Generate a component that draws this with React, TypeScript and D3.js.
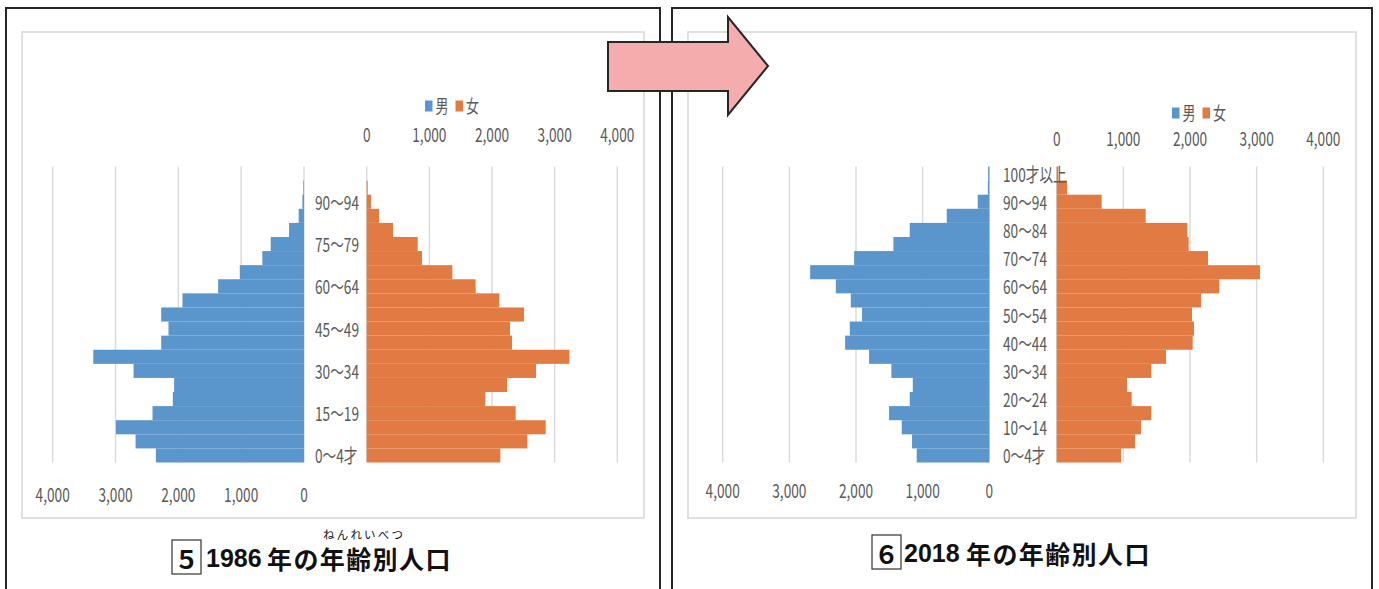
import React, { useEffect, useRef } from 'react';
import * as d3 from 'd3';

// age groups, bottom to top
const ageGroups = [
  "0～4才", "5～9", "10～14", "15～19", "20～24", "25～29", "30～34",
  "35～39", "40～44", "45～49", "50～54", "55～59", "60～64", "65～69",
  "70～74", "75～79", "80～84", "85～89", "90～94", "95～99", "100才以上"
];

const male1986 = [2358, 2681, 2994, 2411, 2088, 2067, 2713, 3354, 2273, 2157, 2273, 1934, 1367, 1022, 663, 530, 238, 85, 25, 10, 0];
const female1986 = [2133, 2564, 2857, 2378, 1894, 2240, 2703, 3235, 2319, 2287, 2511, 2117, 1739, 1367, 883, 814, 420, 196, 69, 15, 0];
const male2018 = [1089, 1159, 1314, 1504, 1194, 1148, 1469, 1804, 2163, 2093, 1909, 2078, 2303, 2688, 2028, 1439, 1194, 639, 174, 22, 18];
const female2018 = [965, 1175, 1265, 1420, 1125, 1055, 1420, 1640, 2040, 2060, 2030, 2165, 2440, 3050, 2270, 1980, 1960, 1335, 675, 155, 25];

const tickValues = [0, 1000, 2000, 3000, 4000];
const legendLabels = ["男", "女"];

const blue = "#5A95CB";
const orange = "#E27B43";
const gridColor = "#d9d9d9";
const textColor = "#595959";
const labelFont = "'Liberation Sans Narrow', 'Noto Sans CJK JP', sans-serif";
const titleFont = "'Noto Sans CJK JP', sans-serif";
const squeeze = 0.72;

const addLabel = (g, x, y, txt, anchor, size = 19, fill = textColor) => {
    g.append("text")
        .attr("transform", `translate(${x},${y}) scale(${squeeze},1)`)
        .attr("text-anchor", anchor)
        .attr("dominant-baseline", "central")
        .attr("font-family", labelFont)
        .attr("font-size", size)
        .attr("fill", fill)
        .text(txt);
};

const drawPyramid = (svg, opt) => {
    const g = svg.append("g");

    const xMale = d3.scaleLinear().domain([0, 4000]).range([opt.maleZero, opt.maleMax]);
    const xFemale = d3.scaleLinear().domain([0, 4000]).range([opt.femaleZero, opt.femaleMax]);
    const y = d3.scaleBand()
        .domain(ageGroups)
        .range([opt.bottom, opt.top])
        .padding(0);

    //gridlines
    tickValues.forEach(t => {
        [xMale(t), xFemale(t)].forEach(x => {
            g.append("line")
                .attr("x1", x).attr("x2", x)
                .attr("y1", opt.top).attr("y2", opt.bottom)
                .attr("stroke", gridColor)
                .attr("stroke-width", 1.4);
        });
    });

    //male bars
    g.selectAll(".male")
        .data(opt.male)
        .enter().append("rect")
        .attr("x", d => xMale(d))
        .attr("y", (d, i) => y(ageGroups[i]))
        .attr("width", d => xMale(0) - xMale(d))
        .attr("height", y.bandwidth())
        .attr("fill", blue);

    //female bars
    g.selectAll(".female")
        .data(opt.female)
        .enter().append("rect")
        .attr("x", xFemale(0))
        .attr("y", (d, i) => y(ageGroups[i]))
        .attr("width", d => xFemale(d) - xFemale(0))
        .attr("height", y.bandwidth())
        .attr("fill", orange);

    //tick labels
    const fmt = d3.format(",");
    tickValues.forEach(t => {
        addLabel(g, xMale(t), opt.bottomTickY, fmt(t), "middle");
        addLabel(g, xFemale(t), opt.topTickY, fmt(t), "middle");
    });

    //category labels
    ageGroups.forEach((a, i) => {
        if (i % opt.labelEvery !== 0) return;
        addLabel(g, opt.labelX, y(a) + y.bandwidth() / 2, a, "start");
    });

    //legend
    [blue, orange].forEach((c, i) => {
        const lx = opt.legendX + i * 30.5;
        g.append("rect")
            .attr("x", lx)
            .attr("y", opt.legendY - 5.5)
            .attr("width", 7.5)
            .attr("height", 11)
            .attr("fill", c);
        addLabel(g, lx + 10.5, opt.legendY, legendLabels[i], "start", 18);
    });
};

const App = () => {
    const svgRef = useRef(null);

    useEffect(() => {
        const svg = d3.select(svgRef.current);
        svg.selectAll("*").remove();

        //outer frames
        [[6, 654], [672, 700]].forEach(([x, w]) => {
            svg.append("rect")
                .attr("x", x).attr("y", 8)
                .attr("width", w).attr("height", 620)
                .attr("fill", "none")
                .attr("stroke", "#262626")
                .attr("stroke-width", 2);
        });

        //chart area borders
        [[22, 622], [688, 668]].forEach(([x, w]) => {
            svg.append("rect")
                .attr("x", x).attr("y", 32)
                .attr("width", w).attr("height", 486)
                .attr("fill", "#fff")
                .attr("stroke", gridColor)
                .attr("stroke-width", 1.6);
        });

        drawPyramid(svg, {
            male: male1986, female: female1986,
            maleZero: 304, maleMax: 52.7,
            femaleZero: 366.7, femaleMax: 617.3,
            top: 166.5, bottom: 462.5,
            labelX: 315, labelEvery: 3,
            topTickY: 134, bottomTickY: 494,
            legendX: 425, legendY: 106
        });

        drawPyramid(svg, {
            male: male2018, female: female2018,
            maleZero: 989.3, maleMax: 722.7,
            femaleZero: 1056.7, femaleMax: 1323.3,
            top: 166.5, bottom: 462.5,
            labelX: 1003, labelEvery: 2,
            topTickY: 138, bottomTickY: 490,
            legendX: 1172, legendY: 113
        });

        //arrow
        svg.append("path")
            .attr("d", "M608,42 L728,42 L728,17 L768,66 L728,115 L728,91 L608,91 Z")
            .attr("fill", "#F4ACAC")
            .attr("stroke", "#262626")
            .attr("stroke-width", 2)
            .attr("stroke-linejoin", "miter");

        //titles
        const titles = [
            { box: 172, num: "５", year: "1986", x: 206, rest: 267, y: 558, ruby: "ねんれいべつ" },
            { box: 872, num: "６", year: "2018", x: 904, rest: 966, y: 553, ruby: null }
        ];
        titles.forEach(t => {
            svg.append("rect")
                .attr("x", t.box).attr("y", t.y - 18)
                .attr("width", 29).attr("height", 34)
                .attr("fill", "none")
                .attr("stroke", "#333")
                .attr("stroke-width", 1.2);
            svg.append("text")
                .attr("x", t.box + 14.5).attr("y", t.y)
                .attr("text-anchor", "middle")
                .attr("dominant-baseline", "central")
                .attr("font-family", titleFont)
                .attr("font-weight", "bold")
                .attr("font-size", 25)
                .attr("fill", "#111")
                .text(t.num);
            svg.append("text")
                .attr("x", t.x).attr("y", t.y)
                .attr("dominant-baseline", "central")
                .attr("font-family", "'Liberation Sans Narrow', sans-serif")
                .attr("font-weight", "bold")
                .attr("font-size", 25)
                .attr("fill", "#111")
                .text(t.year);
            svg.append("text")
                .attr("x", t.rest).attr("y", t.y)
                .attr("dominant-baseline", "central")
                .attr("font-family", titleFont)
                .attr("font-weight", "bold")
                .attr("font-size", 25)
                .attr("letter-spacing", 1.4)
                .attr("fill", "#111")
                .text("年の年齢別人口");
            if (t.ruby) {
                svg.append("text")
                    .attr("x", 323).attr("y", t.y - 24)
                    .attr("dominant-baseline", "central")
                    .attr("font-family", titleFont)
                    .attr("font-size", 11.5)
                    .attr("letter-spacing", 2.2)
                    .attr("fill", "#111")
                    .text(t.ruby);
            }
        });
    }, []);

    return (
        <svg
            ref={svgRef}
            width={1379}
            height={589}
            style={{ position: 'absolute', left: 0, top: 0, background: '#fff' }}
        ></svg>
    );
};

export default App;
